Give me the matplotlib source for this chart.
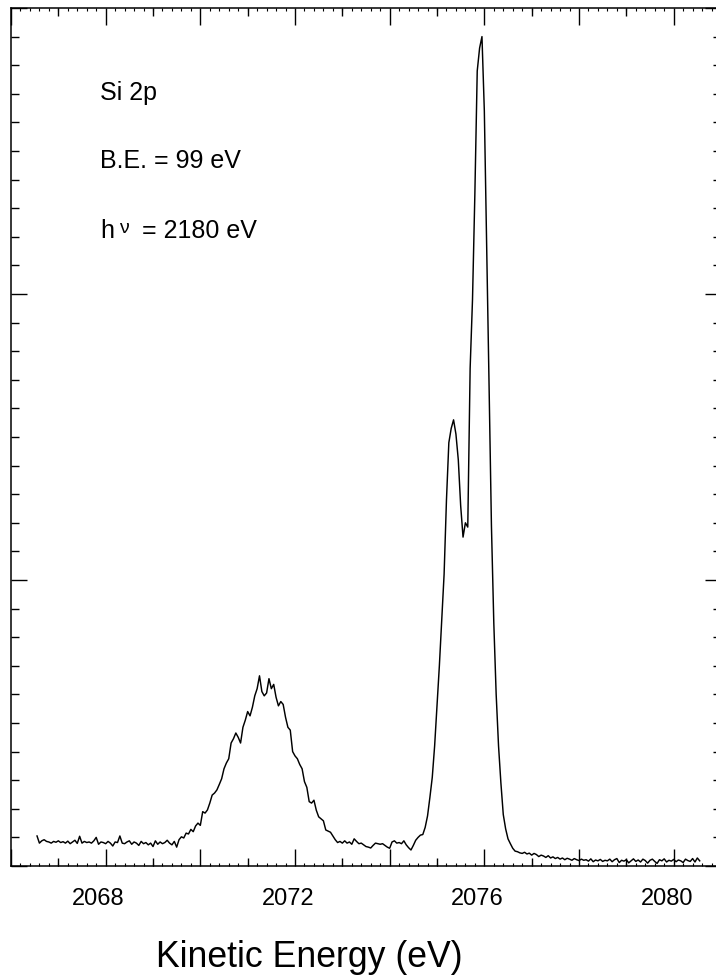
import numpy as np
import matplotlib.pyplot as plt
import matplotlib.transforms as mtransforms
from matplotlib.ticker import MultipleLocator, FuncFormatter

plt.rcParams['font.family'] = ['Liberation Sans', 'DejaVu Sans']

# Spektrum Si 2p, intensitas (satuan sembarang)
ke_start = 2066.55   # eV, titik pertama
ke_step = 0.05       # eV, jarak antar titik
counts = [
    1.05, 0.80, 0.88, 0.92, 0.86, 0.84, 0.80, 0.86, 0.83, 0.88,   # 2066.55
    0.82, 0.85, 0.80, 0.87, 0.78, 0.84, 0.90, 0.79, 1.04, 0.80,   # 2067.05
    0.86, 0.82, 0.84, 0.80, 0.88, 1.00, 0.76, 0.84, 0.82, 0.78,   # 2067.55
    0.86, 0.80, 0.70, 0.84, 0.82, 1.05, 0.80, 0.78, 0.84, 0.88,   # 2068.05
    0.76, 0.84, 0.80, 0.72, 0.86, 0.78, 0.82, 0.74, 0.80, 0.68,   # 2068.55
    0.88, 0.76, 0.84, 0.78, 0.82, 0.90, 0.80, 0.74, 0.86, 0.66,   # 2069.05
    0.92, 1.02, 0.98, 1.15, 1.12, 1.28, 1.20, 1.40, 1.50, 1.42,   # 2069.55
    1.90, 1.85, 1.96, 2.20, 2.48, 2.55, 2.66, 2.85, 3.05, 3.40,   # 2070.05
    3.60, 3.75, 4.30, 4.45, 4.65, 4.50, 4.30, 4.85, 5.10, 5.40,   # 2070.55
    5.25, 5.55, 5.95, 6.20, 6.65, 6.10, 5.95, 6.05, 6.55, 6.20,   # 2071.05
    6.35, 5.90, 5.60, 5.75, 5.65, 5.20, 4.85, 4.75, 4.00, 3.85,   # 2071.55
    3.75, 3.55, 3.40, 2.95, 2.75, 2.25, 2.20, 2.30, 1.95, 1.72,   # 2072.05
    1.65, 1.58, 1.26, 1.22, 1.18, 1.05, 0.92, 0.82, 0.86, 0.80,   # 2072.55
    0.88, 0.80, 0.84, 0.76, 0.95, 0.86, 0.78, 0.80, 0.74, 0.68,   # 2073.05
    0.66, 0.63, 0.72, 0.80, 0.78, 0.76, 0.78, 0.72, 0.66, 0.62,   # 2073.55
    0.84, 0.88, 0.80, 0.82, 0.78, 0.88, 0.74, 0.64, 0.56, 0.72,   # 2074.05
    0.90, 1.00, 1.08, 1.10, 1.35, 1.75, 2.40, 3.10, 4.20, 5.60,   # 2074.55
    7.00, 8.60, 10.2, 12.8, 14.8, 15.3, 15.6, 15.1, 14.2, 12.6,   # 2075.05
    11.5, 12.0, 11.85, 17.4, 19.8, 23.5, 27.8, 28.6, 29.0, 26.4,  # 2075.55
    21.7, 16.8, 11.9, 8.50, 6.00, 4.20, 2.90, 1.80, 1.30, 0.95,   # 2076.05
    0.78, 0.62, 0.52, 0.50, 0.46, 0.44, 0.48, 0.42, 0.45, 0.38,   # 2076.55
    0.44, 0.40, 0.33, 0.38, 0.35, 0.30, 0.36, 0.28, 0.32, 0.26,   # 2077.05
    0.30, 0.24, 0.28, 0.22, 0.27, 0.24, 0.20, 0.26, 0.22, 0.19,   # 2077.55
    0.24, 0.20, 0.22, 0.17, 0.25, 0.15, 0.21, 0.18, 0.23, 0.16,   # 2078.05
    0.20, 0.18, 0.24, 0.15, 0.22, 0.26, 0.12, 0.20, 0.17, 0.22,   # 2078.55
    0.11, 0.18, 0.25, 0.16, 0.21, 0.14, 0.24, 0.19, 0.10, 0.20,   # 2079.05
    0.24, 0.16, 0.09, 0.22, 0.18, 0.25, 0.14, 0.20, 0.17, 0.23,   # 2079.55
    0.15, 0.21, 0.18, 0.12, 0.24, 0.19, 0.16, 0.26, 0.14, 0.28,   # 2080.05
    0.18,                                                         # 2080.55
]
energy = ke_start + ke_step * np.arange(len(counts))

# Label sumbu dan keterangan
xtick_labels = [2068, 2072, 2076, 2080]
info_lines = ['Si 2p', 'B.E. = 99 eV']
hv_value = '= 2180 eV'

W, H = 716, 977
fig = plt.figure(figsize=(W / 100, H / 100), dpi=100)
ax = fig.add_axes([11 / W, 1 - 866 / H, 710 / W, 858 / H])

# Kurva spektrum
ax.plot(energy, counts, color='black', linewidth=1.05)

ax.set_xlim(2066, 2081)
ax.set_ylim(0, 30)
for s in ax.spines.values():
    s.set_linewidth(1.1)

# Sumbu x: tick panjang tiap 2 eV, sedang tiap 1 eV, kecil tiap 0.2 eV
ax.xaxis.set_major_locator(MultipleLocator(2))
ax.xaxis.set_minor_locator(MultipleLocator(0.2))
ax.xaxis.set_major_formatter(
    FuncFormatter(lambda v, p: f'{v:.0f}' if round(v) in xtick_labels else ''))
ax.tick_params(axis='x', which='major', direction='in', length=12.2, width=1.0,
               top=True, bottom=True, labelsize=17, pad=16)
ax.tick_params(axis='x', which='minor', direction='in', length=2.2, width=0.8,
               top=True, bottom=True)
for loc in ['bottom', 'top']:
    sec = ax.secondary_xaxis(loc)
    sec.set_xticks(np.arange(2067, 2082, 2))
    sec.set_xticklabels([])
    sec.tick_params(direction='in', length=5.8, width=1.0)
    sec.spines[loc].set_visible(False)

# Sumbu y: tanpa angka
ax.yaxis.set_major_locator(MultipleLocator(10))
ax.yaxis.set_minor_locator(MultipleLocator(1))
ax.tick_params(axis='y', which='major', direction='in', length=11.5, width=1.0,
               left=True, right=True, labelleft=False)
ax.tick_params(axis='y', which='minor', direction='in', length=5.8, width=1.0,
               left=True, right=True)

# Label angka x sedikit bergeser ke kiri seperti aslinya
offset = mtransforms.ScaledTranslation(-7 / 100, 0, fig.dpi_scale_trans)
for lbl in ax.xaxis.get_majorticklabels():
    lbl.set_transform(lbl.get_transform() + offset)

ax.set_xlabel('Kinetic Energy (eV)', fontsize=25.7, va='baseline')
ax.xaxis.set_label_coords((309 - 11) / 710, -(967 - 866) / 858)

# Keterangan di pojok kiri atas
fig.text(100 / W, 1 - 100 / H, info_lines[0], fontsize=18, va='baseline')
fig.text(100 / W, 1 - 168 / H, info_lines[1], fontsize=18, va='baseline')
fig.text(100 / W, 1 - 238 / H, 'h', fontsize=18, va='baseline')
fig.text(119 / W, 1 - 233 / H, 'ν', fontsize=14, va='baseline')
fig.text(142 / W, 1 - 238 / H, hv_value, fontsize=18, va='baseline')

fig.savefig('out.png', dpi=100)
